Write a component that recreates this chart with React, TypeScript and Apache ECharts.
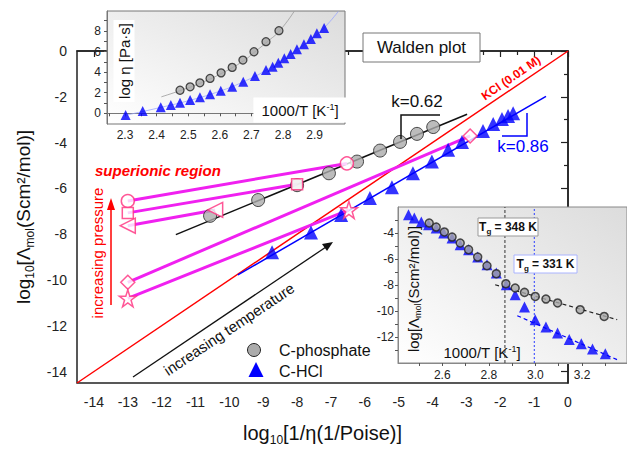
import React, { useEffect, useRef } from "react";
import * as echarts from "echarts";

const F = "'Liberation Sans', Arial, Helvetica, sans-serif";

// ---------- main Walden plot ----------
const phosphateX = [-10.57, -9.15, -8.0, -7.06, -6.23, -5.55, -4.96, -4.46, -3.98];
const phosphateY = [-7.2, -6.51, -5.86, -5.34, -4.83, -4.35, -3.97, -3.62, -3.32];
const hclX = [-8.74, -7.59, -6.7, -5.85, -5.2, -4.58, -4.02, -3.54, -3.13, -2.51, -2.21, -1.95, -1.77, -1.62];
const hclY = [-8.79, -7.93, -7.16, -6.42, -5.95, -5.34, -4.83, -4.31, -3.97, -3.49, -3.19, -2.97, -2.84, -2.72];
const phosphateFitX = [-11.58, -2.98];
const phosphateFitY = [-8.02, -2.76];
const hclFitX = [-9.75, -0.65];
const hclFitY = [-9.78, -1.98];
const kclX = [-14.5, 0];
const kclY = [-14.5, 0];
// isobars (open markers): start at x=-13, end on data lines
const isobarStartX = [-13, -13, -13, -13, -13];
const isobarStartY = [-6.55, -7.07, -7.63, -10.1, -10.8];
const isobarEndX = [-6.53, -8.0, -10.42, -2.89, -6.47];
const isobarEndY = [-4.91, -5.82, -6.94, -3.71, -6.94];

const mainXLabels = [-14, -13, -12, -11, -10, -9, -8, -7, -6, -5, -4, -3, -2, -1, 0];
const mainXMinorTicks = [-13.5, -12.5, -11.5, -10.5, -9.5, -8.5, -7.5, -6.5, -5.5, -4.5, -3.5, -2.5, -1.5, -0.5];
const mainYLabels = [0, -2, -4, -6, -8, -10, -12, -14];
const mainYMinorTicks = [-1, -3, -5, -7, -9, -11, -13];

// ---------- top inset: log eta vs 1000/T ----------
const etaPhosX = [2.474, 2.506, 2.537, 2.569, 2.604, 2.639, 2.673, 2.708, 2.746, 2.787];
const etaPhosY = [2.24, 2.57, 2.96, 3.39, 3.93, 4.46, 5.17, 5.98, 6.96, 8.03];
const etaHclX = [2.302, 2.356, 2.413, 2.445, 2.474, 2.506, 2.537, 2.569, 2.603, 2.639, 2.674, 2.711, 2.746, 2.767, 2.785, 2.804, 2.824, 2.844, 2.866, 2.888, 2.907, 2.93];
const etaHclY = [-0.17, 0.22, 0.58, 0.81, 1.03, 1.29, 1.55, 1.85, 2.2, 2.59, 3.07, 3.63, 4.21, 4.53, 4.92, 5.35, 5.76, 6.22, 6.71, 7.22, 7.77, 8.29];
const etaPhosCurveX = [2.415, 2.474, 2.54, 2.61, 2.675, 2.71, 2.75, 2.79, 2.835];
const etaPhosCurveY = [1.6, 2.2, 2.95, 3.95, 5.1, 5.95, 6.95, 8.05, 9.9];
const etaHclCurveX = [2.3, 2.41, 2.51, 2.6, 2.67, 2.75, 2.83, 2.89, 2.93, 2.975];
const etaHclCurveY = [-0.2, 0.55, 1.3, 2.15, 3.0, 4.25, 5.9, 7.2, 8.3, 9.9];
const etaXLabels = [2.3, 2.4, 2.5, 2.6, 2.7, 2.8, 2.9];
const etaXTicks = [2.25, 2.3, 2.35, 2.4, 2.45, 2.5, 2.55, 2.6, 2.65, 2.7, 2.75, 2.8, 2.85, 2.9, 2.95];
const etaYLabels = [0, 2, 4, 6, 8];
const etaYTicks = [0, 1, 2, 3, 4, 5, 6, 7, 8, 9];

// ---------- bottom inset: log Lambda vs 1000/T ----------
const lamPhosX = [2.544, 2.574, 2.609, 2.642, 2.677, 2.713, 2.752, 2.792, 2.832, 2.873, 2.913, 2.953, 2.999, 3.045, 3.095, 3.192, 3.295];
const lamPhosY = [-3.23, -3.54, -3.92, -4.31, -4.77, -5.28, -5.85, -6.52, -7.13, -7.9, -8.23, -8.57, -8.88, -9.08, -9.38, -9.9, -10.42];
const lamHclX = [2.455, 2.48, 2.51, 2.541, 2.574, 2.606, 2.642, 2.677, 2.713, 2.752, 2.792, 2.832, 2.875, 2.913, 2.953, 2.999, 3.045, 3.095, 3.145, 3.197, 3.245, 3.3];
const lamHclY = [-2.59, -2.85, -3.15, -3.36, -3.62, -4.0, -4.38, -4.9, -5.28, -5.85, -6.44, -7.08, -7.98, -8.75, -9.69, -10.67, -11.23, -11.69, -12.2, -12.52, -12.92, -13.28];
const lamPhosFitX = [2.827, 3.351];
const lamPhosFitY = [-7.98, -10.67];
const lamHclFitX = [2.922, 3.351];
const lamHclFitY = [-10.36, -13.75];
const tgPhosX = [2.869, 2.869];
const tgHclX = [2.995, 2.995];
const tgLineY = [-14, -2];
const lamXLabels = [2.6, 2.8, 3.0, 3.2];
const lamXTicks = [2.5, 2.6, 2.7, 2.8, 2.9, 3.0, 3.1, 3.2, 3.3];
const lamYLabels = [-4, -6, -8, -10, -12];
const lamYTicks = [-13, -12, -11, -10, -9, -8, -7, -6, -5, -4, -3];

const zip = (xs: number[], ys: number[]) => xs.map((x, i) => [x, ys[i]]);

const STAR = "path://M50,2L61,36L97,36L68,57L79,92L50,71L21,92L32,57L3,36L39,36Z";
const isobarSymbols = ["circle", "rect", "triangle", "diamond", STAR];
const isobarRotate = [0, 0, 90, 0, 0];
const isobarSizes = [13, 11, 15, 14, 17];

const PINK = "#ff2d7d";
const MAGENTA = "#f020f0";
const BLUE = "#0000ff";

function txt(x: number, y: number, text: string, style: any = {}, rotation = 0, z = 100) {
  return {
    type: "text",
    x,
    y,
    rotation,
    z,
    style: {
      text,
      fill: "#111",
      fontFamily: F,
      fontSize: 15,
      align: "center",
      verticalAlign: "middle",
      ...style,
    },
  };
}

export default function App() {
  const ref = useRef<HTMLDivElement>(null);
  useEffect(() => {
    if (!ref.current) return;
    const chart = echarts.init(ref.current, null, { renderer: "svg" });

    const insetBg = () =>
      new echarts.graphic.LinearGradient(0, 1, 1, 0, [
        { offset: 0, color: "#ffffff" },
        { offset: 1, color: "#dcdcdc" },
      ]);

    const mainRich = {
      n: { fontSize: 20, fontFamily: F, color: "#111" },
      s: { fontSize: 12, fontFamily: F, color: "#111", verticalAlign: "bottom", padding: [0, 0, -3, 0] },
    };
    const smallRich = {
      n: { fontSize: 15, fontFamily: F, color: "#111" },
      s: { fontSize: 9, fontFamily: F, color: "#111", verticalAlign: "bottom", padding: [0, 0, -2, 0] },
      p: { fontSize: 9, fontFamily: F, color: "#111", verticalAlign: "top" },
    };

    const tickLabel = { fontFamily: F, color: "#222" };

    const openMarkers: any[] = [];
    for (let i = 0; i < isobarStartX.length; i++) {
      const common = {
        symbol: isobarSymbols[i],
        symbolRotate: isobarRotate[i],
        symbolSize: isobarSizes[i],
      };
      openMarkers.push({ value: [isobarStartX[i], isobarStartY[i]], ...common });
      openMarkers.push({ value: [isobarEndX[i], isobarEndY[i]], ...common });
    }

    const isobarLines = isobarStartX.map((_, i) => ({
      type: "line",
      xAxisIndex: 0,
      yAxisIndex: 0,
      data: [
        [isobarStartX[i], isobarStartY[i]],
        [isobarEndX[i], isobarEndY[i]],
      ],
      symbol: "none",
      lineStyle: { color: MAGENTA, width: 3 },
      z: 3,
    }));

    const option: any = {
      animation: false,
      backgroundColor: "#fff",
      grid: [
        { left: 77, top: 51, width: 491, height: 337, show: true, borderColor: "#222", borderWidth: 1.5, backgroundColor: "transparent", z: 0 },
        { left: 107, top: 11, width: 238, height: 113, show: true, borderColor: "#777", borderWidth: 1, backgroundColor: insetBg(), z: 5 },
        { left: 398, top: 207, width: 229, height: 156, show: true, borderColor: "#888", borderWidth: 1, backgroundColor: insetBg(), z: 5 },
      ],
      xAxis: [
        {
          gridIndex: 0, type: "value", min: -14.5, max: 0, position: "bottom",
          axisLine: { show: true, lineStyle: { color: "#222", width: 1.5 } },
          axisTick: { show: true, customValues: mainXLabels, length: 6, lineStyle: { color: "#222", width: 1.2 } },
          axisLabel: { customValues: mainXLabels, fontSize: 14, margin: 12, ...tickLabel },
          splitLine: { show: false },
          name: "{n|log}{s|10}{n|[1/η(1/Poise)]}",
          nameLocation: "middle",
          nameGap: 40,
          nameTextStyle: { rich: mainRich },
        },
        {
          gridIndex: 0, type: "value", min: -14.5, max: 0, position: "bottom",
          axisLine: { show: false },
          axisTick: { show: true, customValues: mainXMinorTicks, length: 4, lineStyle: { color: "#222", width: 1.2 } },
          axisLabel: { show: false },
          splitLine: { show: false },
        },
        {
          gridIndex: 1, type: "value", min: 2.243, max: 2.996, position: "bottom", z: 6,
          axisLine: { show: true, lineStyle: { color: "#777", width: 1 } },
          axisTick: { show: true, customValues: etaXTicks, length: 3, lineStyle: { color: "#555" } },
          axisLabel: { customValues: etaXLabels, fontSize: 12, margin: 5, ...tickLabel },
          splitLine: { show: false },
        },
        {
          gridIndex: 2, type: "value", min: 2.41, max: 3.393, position: "bottom", z: 6,
          axisLine: { show: true, lineStyle: { color: "#888", width: 1 } },
          axisTick: { show: true, customValues: lamXTicks, length: 3, lineStyle: { color: "#555" } },
          axisLabel: { customValues: lamXLabels, fontSize: 12, margin: 6, formatter: (v: number) => v.toFixed(1), ...tickLabel },
          splitLine: { show: false },
        },
      ],
      yAxis: [
        {
          gridIndex: 0, type: "value", min: -14.5, max: 0, position: "left",
          axisLine: { show: true, lineStyle: { color: "#222", width: 1.5 } },
          axisTick: { show: true, customValues: mainYLabels, length: 7, lineStyle: { color: "#222", width: 1.2 } },
          axisLabel: { customValues: mainYLabels, fontSize: 14, margin: 10, ...tickLabel },
          splitLine: { show: false },
          name: "{n|log}{s|10}{n|[Λ}{s|mol}{n|(Scm²/mol)]}",
          nameLocation: "middle",
          nameGap: 36,
          nameTextStyle: { rich: { ...mainRich, n: { ...mainRich.n, fontSize: 19 } } },
        },
        {
          gridIndex: 0, type: "value", min: -14.5, max: 0, position: "left",
          axisLine: { show: false },
          axisTick: { show: true, customValues: mainYMinorTicks, length: 4, lineStyle: { color: "#222", width: 1.2 } },
          axisLabel: { show: false },
          splitLine: { show: false },
        },
        {
          gridIndex: 1, type: "value", min: -1.04, max: 9.94, position: "left", z: 6,
          axisLine: { show: true, lineStyle: { color: "#777", width: 1 } },
          axisTick: { show: true, customValues: etaYTicks, length: 3, lineStyle: { color: "#555" } },
          axisLabel: { customValues: etaYLabels, fontSize: 12, margin: 6, ...tickLabel },
          splitLine: { show: false },
        },
        {
          gridIndex: 2, type: "value", min: -14, max: -2, position: "left", z: 6,
          axisLine: { show: true, lineStyle: { color: "#888", width: 1 } },
          axisTick: { show: true, customValues: lamYTicks, length: 3, lineStyle: { color: "#555" } },
          axisLabel: { customValues: lamYLabels, fontSize: 12, margin: 4, ...tickLabel },
          splitLine: { show: false },
        },
      ],
      series: [
        {
          type: "line", xAxisIndex: 0, yAxisIndex: 0, data: zip(kclX, kclY), symbol: "none",
          lineStyle: { color: "#ff0000", width: 1.5 }, z: 2,
        },
        {
          type: "line", xAxisIndex: 0, yAxisIndex: 0, data: zip(phosphateFitX, phosphateFitY), symbol: "none",
          lineStyle: { color: "#111", width: 1.5 }, z: 2,
        },
        {
          type: "line", xAxisIndex: 0, yAxisIndex: 0, data: zip(hclFitX, hclFitY), symbol: "none",
          lineStyle: { color: BLUE, width: 1.5 }, z: 2,
        },
        {
          name: "C-phosphate", type: "scatter", xAxisIndex: 0, yAxisIndex: 0, data: zip(phosphateX, phosphateY),
          symbol: "circle", symbolSize: 13,
          itemStyle: { color: "#ababab", borderColor: "#222", borderWidth: 1 }, z: 3,
        },
        {
          name: "C-HCl", type: "scatter", xAxisIndex: 0, yAxisIndex: 0, data: zip(hclX, hclY),
          symbol: "triangle", symbolSize: 14,
          itemStyle: { color: BLUE }, z: 3,
        },
        ...isobarLines,
        {
          type: "scatter", xAxisIndex: 0, yAxisIndex: 0, data: openMarkers,
          itemStyle: { color: "#fff", borderColor: PINK, borderWidth: 1.5 }, z: 4,
        },
        // top inset
        {
          type: "line", xAxisIndex: 2, yAxisIndex: 2, data: zip(etaPhosCurveX, etaPhosCurveY), symbol: "none", smooth: true,
          lineStyle: { color: "#9a9a9a", width: 0.8 }, z: 7, clip: true,
        },
        {
          type: "line", xAxisIndex: 2, yAxisIndex: 2, data: zip(etaHclCurveX, etaHclCurveY), symbol: "none", smooth: true,
          lineStyle: { color: "#9aa6ff", width: 0.8 }, z: 7, clip: true,
        },
        {
          type: "scatter", xAxisIndex: 2, yAxisIndex: 2, data: zip(etaPhosX, etaPhosY), symbol: "circle", symbolSize: 8,
          itemStyle: { color: "#a8a8a8", borderColor: "#222", borderWidth: 1.3 }, z: 8,
        },
        {
          type: "scatter", xAxisIndex: 2, yAxisIndex: 2, data: zip(etaHclX, etaHclY), symbol: "triangle", symbolSize: 10,
          itemStyle: { color: BLUE }, z: 8,
        },
        // bottom inset
        {
          type: "line", xAxisIndex: 3, yAxisIndex: 3, data: zip(tgPhosX, tgLineY), symbol: "none",
          lineStyle: { color: "#333", width: 1, type: [3, 2] }, z: 7,
        },
        {
          type: "line", xAxisIndex: 3, yAxisIndex: 3, data: zip(tgHclX, tgLineY), symbol: "none",
          lineStyle: { color: "#2a3cff", width: 1, type: [2, 2] }, z: 7,
        },
        {
          type: "line", xAxisIndex: 3, yAxisIndex: 3, data: zip(lamPhosFitX, lamPhosFitY), symbol: "none",
          lineStyle: { color: "#222", width: 1.2, type: [4, 3] }, z: 7,
        },
        {
          type: "line", xAxisIndex: 3, yAxisIndex: 3, data: zip(lamHclFitX, lamHclFitY), symbol: "none",
          lineStyle: { color: BLUE, width: 1.2, type: [4, 3] }, z: 7,
        },
        {
          type: "scatter", xAxisIndex: 3, yAxisIndex: 3, data: zip(lamHclX, lamHclY), symbol: "triangle", symbolSize: 11,
          itemStyle: { color: BLUE }, z: 8,
        },
        {
          type: "scatter", xAxisIndex: 3, yAxisIndex: 3, data: zip(lamPhosX, lamPhosY), symbol: "circle", symbolSize: 8,
          itemStyle: { color: "#a8a8a8", borderColor: "#222", borderWidth: 1.5 }, z: 9,
        },
      ],
      graphic: [
        // Walden plot box
        { type: "rect", z: 100, shape: { x: 363, y: 33, width: 117, height: 29 }, style: { fill: "#fff", stroke: "#777", lineWidth: 1 } },
        txt(421.5, 47.5, "Walden plot", { fontSize: 17 }),
        // k = 0.62
        txt(417, 101, "k=0.62", { fontSize: 17 }),
        { type: "polyline", z: 100, shape: { points: [[401, 139], [401, 115], [440, 115]] }, style: { stroke: "#111", lineWidth: 1.5, fill: "none" } },
        // k = 0.86
        txt(523, 146, "k=0.86", { fontSize: 17, fill: BLUE }),
        { type: "polyline", z: 100, shape: { points: [[502, 136], [527, 136], [527, 113]] }, style: { stroke: BLUE, lineWidth: 1.5, fill: "none" } },
        // KCl label
        txt(511, 78, "KCl (0.01 M)", { fontSize: 12, fontWeight: "bold", fill: "#ff0000" }, 0.6),
        // superionic region
        txt(95, 170, "superionic region", { fontSize: 15, fontWeight: "bold", fontStyle: "italic", fill: "#ff0000", align: "left" }),
        // increasing pressure
        txt(97, 253, "increasing pressure", { fontSize: 15, fill: "#ff0000" }, Math.PI / 2),
        { type: "line", z: 100, shape: { x1: 111, y1: 305, x2: 111, y2: 208 }, style: { stroke: "#ff0000", lineWidth: 1.5 } },
        { type: "polygon", z: 100, shape: { points: [[111, 198], [107, 210], [115, 210]] }, style: { fill: "#ff0000" } },
        // increasing temperature
        txt(229, 329, "increasing temperature", { fontSize: 15 }, 0.59),
        { type: "line", z: 100, shape: { x1: 133, y1: 377, x2: 326, y2: 247 }, style: { stroke: "#111", lineWidth: 1.3 } },
        { type: "polygon", z: 100, shape: { points: [[333, 242], [322, 244], [327, 251]] }, style: { fill: "#111" } },
        // legend
        { type: "circle", z: 100, shape: { cx: 254, cy: 350, r: 6.5 }, style: { fill: "#ababab", stroke: "#222", lineWidth: 1 } },
        txt(279, 350, "C-phosphate", { fontSize: 16, align: "left" }),
        { type: "polygon", z: 100, shape: { points: [[256, 362], [248.5, 377], [263.5, 377]] }, style: { fill: BLUE } },
        txt(279, 371, "C-HCl", { fontSize: 16, align: "left" }),
        // top inset axis names
        txt(124, 61, "log η [Pa·s]", { fontSize: 15, backgroundColor: "#fff", padding: [3, 3] }, Math.PI / 2),
        txt(300, 110, "{n|1000/T [K}{p|-1}{n|]}", { rich: smallRich, backgroundColor: "#fff", padding: [5, 8] }),
        // bottom inset axis names
        txt(413, 289, "{n|log[Λ}{s|mol}{n|(Scm²/mol)]}", { rich: smallRich }, Math.PI / 2),
        txt(482, 352, "{n|1000/T [K}{p|-1}{n|]}", { rich: smallRich }),
        // Tg labels
        { type: "rect", z: 100, shape: { x: 478, y: 218, width: 60, height: 18 }, style: { fill: "#fff", stroke: "#999", lineWidth: 1 } },
        txt(508, 227, "{b|T}{s|g}{b| = 348 K}", {
          rich: {
            b: { fontSize: 12, fontWeight: "bold", fontFamily: F, color: "#111" },
            s: { fontSize: 8, fontWeight: "bold", fontFamily: F, color: "#111", verticalAlign: "bottom", padding: [0, 0, -2, 0] },
          },
        }),
        { type: "rect", z: 100, shape: { x: 514, y: 255, width: 63, height: 18 }, style: { fill: "#fff", stroke: "#aab4ff", lineWidth: 1 } },
        txt(545.5, 264, "{b|T}{s|g}{b| = 331 K}", {
          rich: {
            b: { fontSize: 12, fontWeight: "bold", fontFamily: F, color: "#1a2cff" },
            s: { fontSize: 8, fontWeight: "bold", fontFamily: F, color: "#1a2cff", verticalAlign: "bottom", padding: [0, 0, -2, 0] },
          },
        }),
      ],
    };

    chart.setOption(option);
    return () => chart.dispose();
  }, []);

  return (
    <div
      ref={ref}
      style={{ position: "fixed", left: 0, top: 0, width: 627, height: 451, background: "#fff" }}
    />
  );
}
